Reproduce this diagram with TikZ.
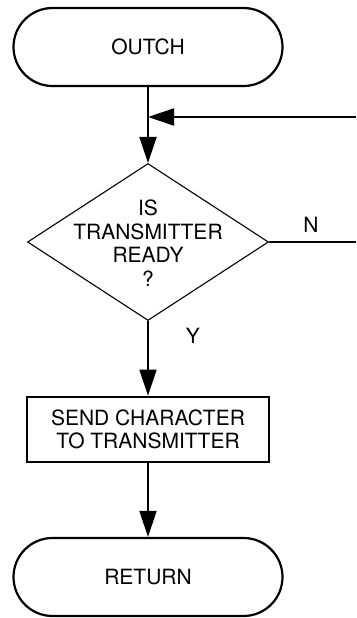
\documentclass[tikz,border=0pt]{standalone}
\usepackage{fontspec}
\setmainfont{TeX Gyre Heros}
\usetikzlibrary{shapes.geometric,arrows.meta}
\begin{document}
\begin{tikzpicture}[x=1pt,y=-1pt,
  every node/.style={font=\fontsize{21}{23.5}\selectfont},
  term/.style={draw,line width=2.2pt,rounded corners=39pt,minimum width=269pt,minimum height=78pt,inner sep=0pt},
  dec/.style={draw,line width=1.1pt,diamond,minimum width=241pt,minimum height=157pt,inner sep=0pt},
  proc/.style={draw,line width=2.7pt,minimum width=242pt,minimum height=65pt,inner sep=0pt,align=center},
  txt/.style={align=center,inner sep=0pt},
  conn/.style={line width=2pt},
  arr/.style={conn,-{Triangle[length=26pt,width=17pt]}}
]
\useasboundingbox (0,0) rectangle (356,618);
\node[term] (start) at (148,47) {OUTCH};
\node[dec] (d) at (148,242) {};
\node[txt] (dt) at (148,243) {IS\\TRANSMITTER\\READY\\?};
\node[proc] (box) at (148,429.5) {SEND CHARACTER\\TO TRANSMITTER};
\node[term] (ret) at (148,577) {RETURN};
\coordinate (j) at (148,117);
\coordinate (rin) at (356,117);
\coordinate (nout) at (356,242);
\node[txt] (n) at (311,225) {N};
\node[txt] (y) at (193,336) {Y};
\draw[conn] (start.south) -- (j);
\draw[arr] (j) -- (d.north);
\draw[arr] (rin) -- (j);
\draw[conn] (d.east) -- (nout);
\draw[arr] (d.south) -- (box.north);
\draw[arr] (box.south) -- (ret.north);
\end{tikzpicture}
\end{document}
